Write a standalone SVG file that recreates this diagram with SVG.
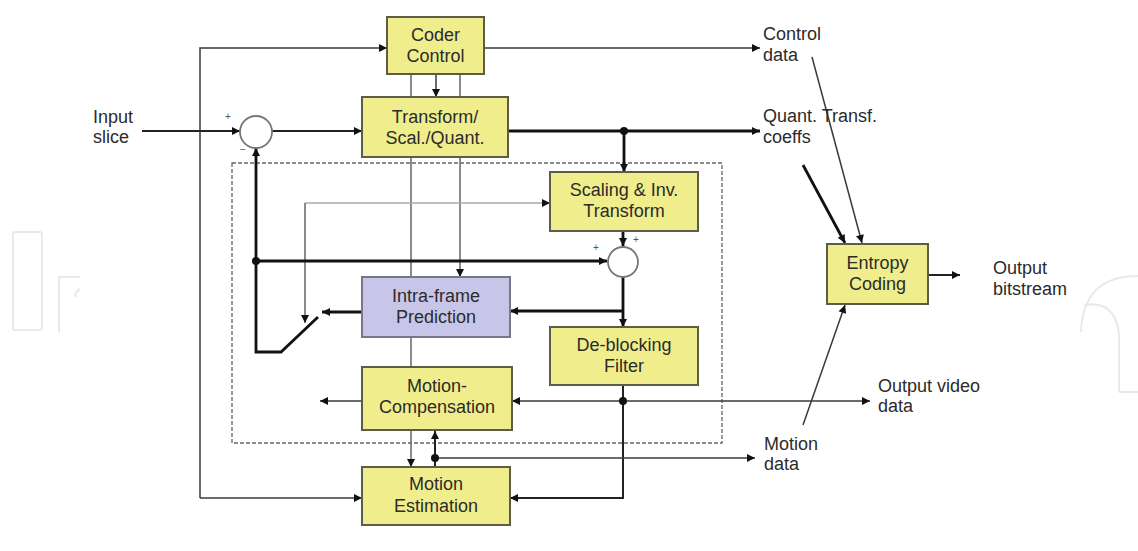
<svg xmlns="http://www.w3.org/2000/svg" width="1138" height="551" viewBox="0 0 1138 551">
<style>
.box{fill:#f0ee8c;stroke:#5c5c48;stroke-width:2}
.boxl{fill:#c8c6e8;stroke:#77778a;stroke-width:2}
.t{font-family:"Liberation Sans",Arial,sans-serif;font-size:18px;fill:#2b2b2b;text-anchor:middle}
.lb{font-family:"Liberation Sans",Arial,sans-serif;font-size:18px;fill:#2b2b2b}
.sg{font-family:"Liberation Sans",Arial,sans-serif;font-size:10px;fill:#555}
.thin{fill:none;stroke:#3a3a3a;stroke-width:1.5}
.med{fill:none;stroke:#222;stroke-width:2}
.thick{fill:none;stroke:#111;stroke-width:2.8}
.gray{fill:none;stroke:#aaa;stroke-width:1.6}
.dgray{fill:none;stroke:#666;stroke-width:1.5}
.wm{fill:none;stroke:#e9e9e9;stroke-width:2}
</style>
<defs>
<marker id="ah" viewBox="0 0 10 10" refX="10" refY="5" markerWidth="9" markerHeight="8" markerUnits="userSpaceOnUse" orient="auto-start-reverse">
<path d="M0,0 L10,5 L0,10 z" fill="#111"/>
</marker>
</defs>
<rect width="1138" height="551" fill="#ffffff"/>
<g id="watermark">
<rect class="wm" x="13" y="232" width="29" height="98" rx="2"/>
<path class="wm" d="M59,332 V277 H80"/>
<path class="wm" d="M75,297 Q76,291 80,289"/>
<path class="wm" d="M1081,332 Q1083,276 1138,276"/>
<path class="wm" d="M1119,392 V335 Q1116,300 1084,305"/>
<path class="wm" d="M1119,392 H1138"/>
</g>
<rect id="region" x="232" y="163" width="490" height="280" fill="none" stroke="#666" stroke-width="1.3" stroke-dasharray="4 2"/>
<g id="connectors">
<path class="med" d="M142,131 H240" marker-end="url(#ah)"/>
<path class="med" d="M272,131 H362" marker-end="url(#ah)"/>
<path class="thick" d="M508,131 H760" marker-end="url(#ah)"/>
<path class="thick" d="M624,131 V172" marker-end="url(#ah)"/>
<path class="thin" d="M484,48 H760" marker-end="url(#ah)"/>
<path class="thin" d="M200,498 V48 H387" marker-end="url(#ah)"/>
<path class="thin" d="M200,498 H362" marker-end="url(#ah)"/>
<path class="thin" d="M436,74 V97" marker-end="url(#ah)"/>
<path class="dgray" d="M411,74 V97 M460,74 V97"/>
<path class="dgray" d="M411,157 V467" marker-end="url(#ah)"/>
<path class="dgray" d="M460,157 V277" marker-end="url(#ah)"/>
<path class="gray" d="M305,203 H550" marker-end="url(#ah)"/>
<path class="dgray" d="M305,203 V323" marker-end="url(#ah)"/>
<path class="thick" d="M318,317 L281,352 H256 V148" stroke-width="2.5" marker-end="url(#ah)"/>
<path class="thick" d="M256,261 H607" marker-end="url(#ah)"/>
<path class="thick" d="M623,231 V246" marker-end="url(#ah)"/>
<path class="thick" d="M623,277 V327" marker-end="url(#ah)"/>
<path class="thick" d="M623,311 H510" marker-end="url(#ah)"/>
<path class="thick" d="M362,312 H322" marker-end="url(#ah)"/>
<path class="med" d="M623,385 V498 H510" stroke-width="1.7" marker-end="url(#ah)"/>
<path class="thin" d="M623,401 H512" marker-end="url(#ah)"/>
<path class="thin" d="M623,401 H870" marker-end="url(#ah)"/>
<path class="thin" d="M362,401 H320" marker-end="url(#ah)"/>
<path class="med" d="M435,467 V431" stroke-width="1.7" marker-end="url(#ah)"/>
<path class="thin" d="M435,458 H755" marker-end="url(#ah)"/>
<path class="thin" d="M812,57 L862,243" marker-end="url(#ah)"/>
<path class="thick" d="M803,165 L845,243" stroke-width="2.5" marker-end="url(#ah)"/>
<path class="thin" d="M803,425 L845,305" marker-end="url(#ah)"/>
<path class="med" d="M928,275 H960" stroke-width="2.2" marker-end="url(#ah)"/>
<circle cx="624" cy="131" r="4" fill="#111"/>
<circle cx="256" cy="261" r="4" fill="#111"/>
<circle cx="623" cy="401" r="4" fill="#111"/>
<circle cx="435" cy="458" r="4" fill="#111"/>
</g>
<g id="sum1">
<circle cx="256" cy="132" r="16" fill="#fff" stroke="#777" stroke-width="1.8"/>
<text class="sg" x="225" y="120">+</text>
<text class="sg" x="240" y="153">−</text>
</g>
<g id="sum2">
<circle cx="623" cy="262" r="15" fill="#fff" stroke="#777" stroke-width="1.8"/>
<text class="sg" x="593" y="251">+</text>
<text class="sg" x="633" y="243">+</text>
</g>
<g id="coder-control">
<rect class="box" x="387" y="17" width="97" height="57"/>
<text class="t" x="435.5" y="41">Coder</text>
<text class="t" x="435.5" y="62">Control</text>
</g>
<g id="transform">
<rect class="box" x="362" y="97" width="146" height="60"/>
<text class="t" x="435" y="122.5">Transform/</text>
<text class="t" x="435" y="143.5">Scal./Quant.</text>
</g>
<g id="scaling">
<rect class="box" x="550" y="172" width="148" height="59"/>
<text class="t" x="624" y="196">Scaling &amp; Inv.</text>
<text class="t" x="624" y="217">Transform</text>
</g>
<g id="intra">
<rect class="boxl" x="362" y="277" width="148" height="60"/>
<text class="t" x="436" y="302">Intra-frame</text>
<text class="t" x="436" y="323">Prediction</text>
</g>
<g id="deblocking">
<rect class="box" x="550" y="327" width="148" height="58"/>
<text class="t" x="624" y="351">De-blocking</text>
<text class="t" x="624" y="372">Filter</text>
</g>
<g id="motion-comp">
<rect class="box" x="362" y="367" width="150" height="63"/>
<text class="t" x="437" y="392">Motion-</text>
<text class="t" x="437" y="413">Compensation</text>
</g>
<g id="motion-est">
<rect class="box" x="362" y="467" width="148" height="58"/>
<text class="t" x="436" y="490">Motion</text>
<text class="t" x="436" y="512">Estimation</text>
</g>
<g id="entropy">
<rect class="box" x="827" y="244" width="101" height="60"/>
<text class="t" x="877.5" y="269">Entropy</text>
<text class="t" x="877.5" y="290">Coding</text>
</g>
<g id="labels">
<text class="lb" x="93" y="123">Input</text>
<text class="lb" x="93" y="143">slice</text>
<text class="lb" x="763" y="40">Control</text>
<text class="lb" x="763" y="61">data</text>
<text class="lb" x="763" y="122">Quant. Transf.</text>
<text class="lb" x="763" y="143">coeffs</text>
<text class="lb" x="993" y="274">Output</text>
<text class="lb" x="993" y="295">bitstream</text>
<text class="lb" x="878" y="392">Output video</text>
<text class="lb" x="878" y="412">data</text>
<text class="lb" x="764" y="450">Motion</text>
<text class="lb" x="764" y="470">data</text>
</g>
</svg>
